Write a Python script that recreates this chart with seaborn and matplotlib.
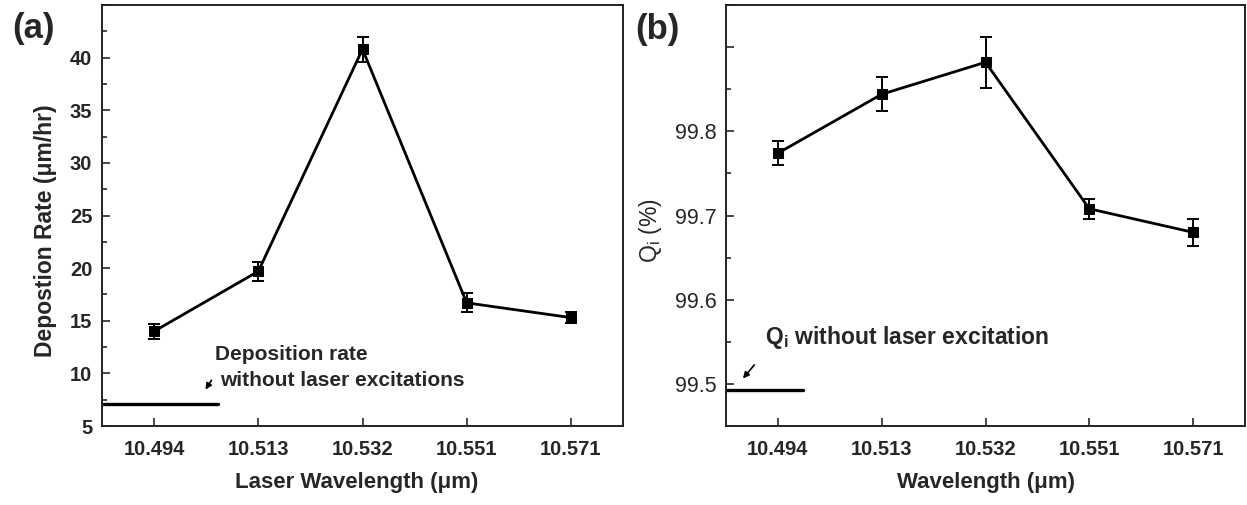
import numpy as np
import matplotlib
matplotlib.use('Agg')
import matplotlib.pyplot as plt
import seaborn as sns
from matplotlib.ticker import MultipleLocator, FixedLocator

sns.set_style('ticks')
plt.rcParams['font.family'] = ['Liberation Sans', 'DejaVu Sans']
plt.rcParams['mathtext.default'] = 'regular'

# data
wavelengths = ['10.494', '10.513', '10.532', '10.551', '10.571']
dep_rate = [14.0, 19.7, 40.8, 16.7, 15.3]
dep_err = [0.7, 0.9, 1.2, 0.9, 0.5]
dep_base = 7.1          # rate without laser excitation
qi = [99.774, 99.844, 99.882, 99.708, 99.680]
qi_err = [0.014, 0.020, 0.030, 0.012, 0.016]
qi_base = 99.493        # Qi without laser excitation

pos = np.arange(len(wavelengths))

fig = plt.figure(figsize=(12.47, 5.05), dpi=100)
ax1 = fig.add_axes([0.0818, 0.1564, 0.4178, 0.8337])
ax2 = fig.add_axes([0.5822, 0.1564, 0.4162, 0.8337])


def draw(ax, y, err):
    sns.lineplot(x=pos, y=y, ax=ax, color='black', lw=2.0, marker='s',
                 markersize=7, markeredgecolor='black', zorder=3)
    ax.errorbar(pos, y, yerr=err, fmt='none', ecolor='black', elinewidth=1.4,
                capsize=4, capthick=1.4, zorder=2)
    ax.set_xlim(-0.5, 4.5)
    ax.set_xticks(pos)
    ax.set_xticklabels(wavelengths, fontsize=14.5, fontweight='bold')
    for s in ax.spines.values():
        s.set_linewidth(1.4)
        s.set_color('#222222')
    ax.tick_params(direction='in', length=6, width=1.2, top=False, right=False)
    ax.tick_params(which='minor', direction='in', length=3.5, width=1.2)
    ax.tick_params(axis='x', pad=10)
    ax.tick_params(axis='y', pad=7)


# (a) deposition rate
draw(ax1, dep_rate, dep_err)
ax1.set_ylim(5, 45)
ax1.yaxis.set_major_locator(FixedLocator([5, 10, 15, 20, 25, 30, 35, 40]))
ax1.yaxis.set_minor_locator(MultipleLocator(2.5))
for t in ax1.get_yticklabels():
    t.set_fontsize(14.5)
    t.set_fontweight('bold')
ax1.plot([-0.5, 0.61], [dep_base, dep_base], color='black', lw=2.4)
ax1.set_xlabel('Laser Wavelength (\u03bcm)', fontsize=16, fontweight='bold')
ax1.set_ylabel('Depostion Rate (\u03bcm/hr)', fontsize=16.5, fontweight='bold')
ax1.xaxis.set_label_coords(0.489, -0.135)
ax1.xaxis.label.set_va('center')
ax1.yaxis.set_label_coords(-0.108, 0.463)
ax1.yaxis.label.set_va('center')
ax1.text(0.584, 11.76, 'Deposition rate', fontsize=15, fontweight='bold', va='center')
ax1.text(0.632, 9.28, 'without laser excitations', fontsize=15, fontweight='bold', va='center')
ax1.annotate('', xy=(0.478, 8.24), xytext=(0.565, 9.57),
             arrowprops=dict(arrowstyle='-|>', color='black', lw=1.2, mutation_scale=9))

# (b) Qi
draw(ax2, qi, qi_err)
ax2.set_ylim(99.45, 99.95)
ax2.yaxis.set_major_locator(FixedLocator([99.5, 99.6, 99.7, 99.8, 99.9]))
ax2.yaxis.set_minor_locator(MultipleLocator(0.05))
ax2.set_yticklabels(['99.5', '99.6', '99.7', '99.8', ''], fontsize=15.5)
ax2.plot([-0.5, 0.24], [qi_base, qi_base], color='black', lw=2.4)
ax2.set_xlabel('Wavelength (\u03bcm)', fontsize=16, fontweight='bold')
ax2.set_ylabel(r'Q$_\mathregular{i}$ (%)', fontsize=16.5)
ax2.xaxis.set_label_coords(0.5, -0.133)
ax2.xaxis.label.set_va('center')
ax2.yaxis.set_label_coords(-0.145, 0.463)
ax2.yaxis.label.set_va('center')
ax2.text(-0.124, 99.555, r'Q$_\mathregular{i}$ without laser excitation', fontsize=16.5,
         fontweight='bold', va='center')
ax2.annotate('', xy=(-0.354, 99.504), xytext=(-0.21, 99.525),
             arrowprops=dict(arrowstyle='-|>', color='black', lw=1.2, mutation_scale=9))

fig.text(0.027, 0.943, '(a)', fontsize=25, fontweight='bold', ha='center', va='center')
fig.text(0.527, 0.941, '(b)', fontsize=25, fontweight='bold', ha='center', va='center')

fig.savefig('out.png', dpi=100)
